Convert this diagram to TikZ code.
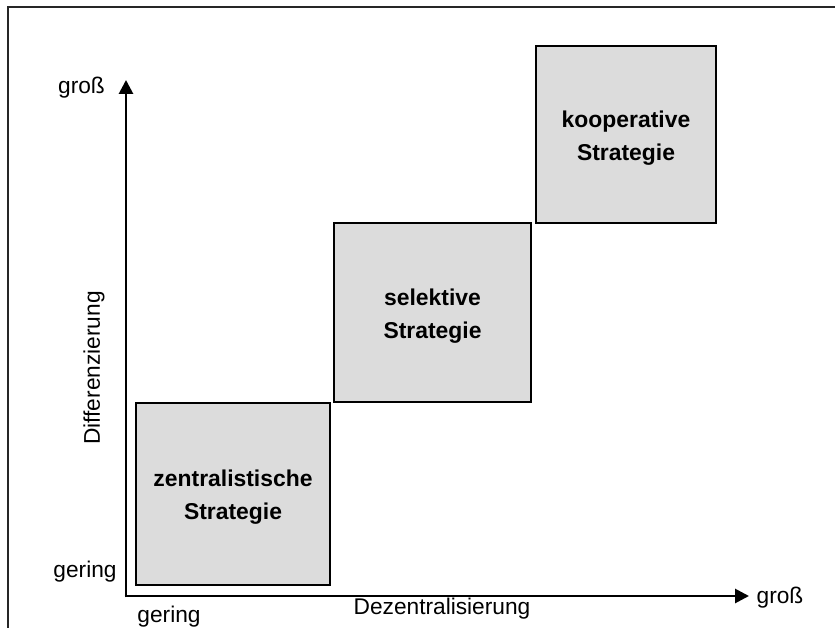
\documentclass[tikz,border=0pt]{standalone}
\usepackage{fontspec}
\setmainfont{Liberation Sans}
\usetikzlibrary{arrows.meta}
\definecolor{boxfill}{HTML}{DCDCDC}
\tikzset{
  strategy/.style={draw=black, line width=2.2pt, fill=boxfill, inner sep=0pt},
  strategytext/.style={align=center, inner sep=0pt,
    font=\bfseries\fontsize{22.9}{33}\selectfont},
  axis/.style={line width=2.8pt, -{Triangle[length=14pt,width=14pt]}},
  lbl/.style={inner sep=0pt, font=\fontsize{22.7}{27}\selectfont},
  frame/.style={line width=2pt, draw=black!85}
}
\begin{document}
\begin{tikzpicture}[x=1pt, y=-1pt]
  \useasboundingbox (0,0) rectangle (835,628);
  % outer frame (top and left edges)
  \draw[frame] (8,628) -- (8,7) -- (835,7);

  % axes
  \coordinate (origin) at (126,596);
  \coordinate (ytip) at (126,80);
  \coordinate (xtip) at (749,596);
  \draw[axis] (126,597.4) -- (ytip);
  \draw[axis] (124.6,596) -- (xtip);

  % strategy boxes
  \node[strategy, minimum width=194pt, minimum height=182pt] (zentral) at (233,494) {};
  \node[strategy, minimum width=197pt, minimum height=179pt] (selektiv) at (432.5,312.5) {};
  \node[strategy, minimum width=180pt, minimum height=177pt] (koop) at (626,134.5) {};
  \node[strategytext] (zentral-text) at ([yshift=-3pt]zentral.center) {zentralistische\\Strategie};
  \node[strategytext] (selektiv-text) at ([yshift=-4pt]selektiv.center) {selektive\\Strategie};
  \node[strategytext] (koop-text) at ([yshift=-3.5pt]koop.center) {kooperative\\Strategie};

  % axis labels
  \node[lbl] (ygross) at (81.5,88) {groß};
  \node[lbl] (ygering) at (85,572) {gering};
  \node[lbl] (xgering) at (169,617) {gering};
  \node[lbl] (xgross) at (780,598) {groß};
  \node[lbl] (xname) at (442,609) {Dezentralisierung};
  \node[lbl, rotate=90] (yname) at (94,368) {Differenzierung};
\end{tikzpicture}
\end{document}
